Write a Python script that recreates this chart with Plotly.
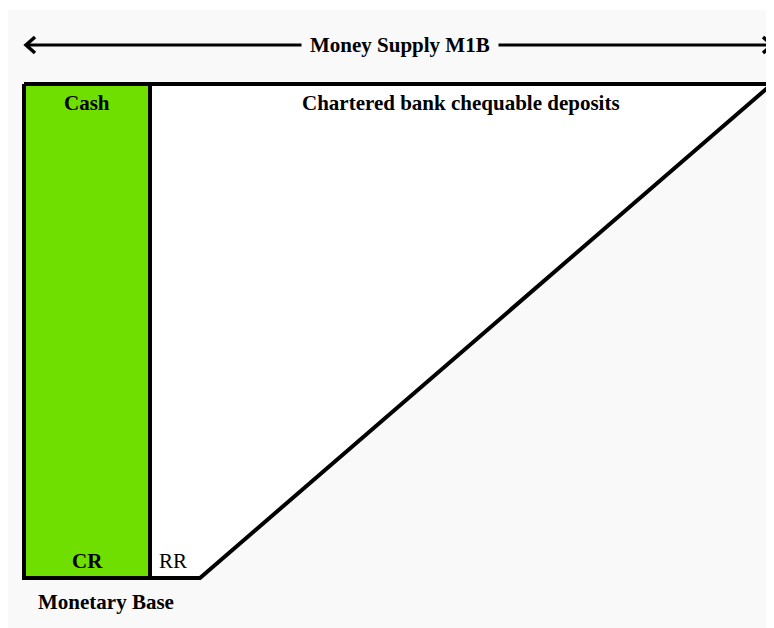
import plotly.graph_objects as go

# ---- data (diagram units, pixel-like) ----
left_edge = 24          # start of money supply bar
cash_width = 126        # currency (CR) share
rr_width = 50           # required reserves share
deposit_top_end = 772   # right end of deposits at the top
top_y = 84
bottom_y = 578
arrow_y = 45
arrow_left = 26
arrow_right = 772

labels_bold = ["Cash", "Chartered bank chequable deposits", "CR", "Monetary Base"]
label_x = [87, 461, 87, 106]
label_y = [103, 103, 561, 602]
rr_label = "RR"
rr_label_xy = [173, 561]
title_text = "Money Supply M1B"
title_x = 400

cash_right = left_edge + cash_width
rr_right = cash_right + rr_width

FONT = "Liberation Serif, Times New Roman, serif"
FS = 21
fig = go.Figure()

# deposits region (white trapezoid)
fig.add_trace(go.Scatter(
    x=[cash_right, deposit_top_end, rr_right, cash_right, cash_right],
    y=[top_y, top_y, bottom_y, bottom_y, top_y],
    mode="lines", fill="toself", fillcolor="white",
    line=dict(color="black", width=4), hoverinfo="skip"))

# cash region (green)
fig.add_trace(go.Scatter(
    x=[left_edge, cash_right, cash_right, left_edge, left_edge],
    y=[top_y, top_y, bottom_y, bottom_y, top_y],
    mode="lines", fill="toself", fillcolor="#6fdf00",
    line=dict(color="black", width=4), hoverinfo="skip"))

# arrow line
fig.add_trace(go.Scatter(
    x=[arrow_left, arrow_right], y=[arrow_y, arrow_y],
    mode="lines", line=dict(color="black", width=3), hoverinfo="skip"))
# chevrons
fig.add_trace(go.Scatter(
    x=[arrow_left + 9, arrow_left, arrow_left + 9], y=[arrow_y - 8, arrow_y, arrow_y + 8],
    mode="lines", line=dict(color="black", width=3.5), hoverinfo="skip"))
fig.add_trace(go.Scatter(
    x=[arrow_right - 9, arrow_right, arrow_right - 9], y=[arrow_y - 8, arrow_y, arrow_y + 8],
    mode="lines", line=dict(color="black", width=3.5), hoverinfo="skip"))

annotations = []
for t, x, y in zip(labels_bold, label_x, label_y):
    annotations.append(dict(x=x, y=y, text="<b>%s</b>" % t, showarrow=False,
                            font=dict(family=FONT, size=FS, color="black"),
                            xanchor="center", yanchor="middle"))
annotations.append(dict(x=rr_label_xy[0], y=rr_label_xy[1], text=rr_label, showarrow=False,
                        font=dict(family=FONT, size=FS, color="black"),
                        xanchor="center", yanchor="middle"))
annotations.append(dict(x=title_x, y=arrow_y, text="<b>%s</b>" % title_text, showarrow=False,
                        font=dict(family=FONT, size=FS, color="black"),
                        bgcolor="#f9f9f9", borderpad=8,
                        xanchor="center", yanchor="middle"))

fig.update_layout(
    width=766, height=620,
    margin=dict(l=0, r=0, t=0, b=0),
    paper_bgcolor="white", plot_bgcolor="white",
    showlegend=False,
    annotations=annotations,
    shapes=[dict(type="rect", xref="x", yref="y", x0=8, x1=774, y0=10, y1=628,
                 fillcolor="#f9f9f9", line=dict(width=0), layer="below")],
    xaxis=dict(range=[8, 774], visible=False, fixedrange=True),
    yaxis=dict(range=[628, 8], visible=False, fixedrange=True),
)

fig.write_html("out.html")
